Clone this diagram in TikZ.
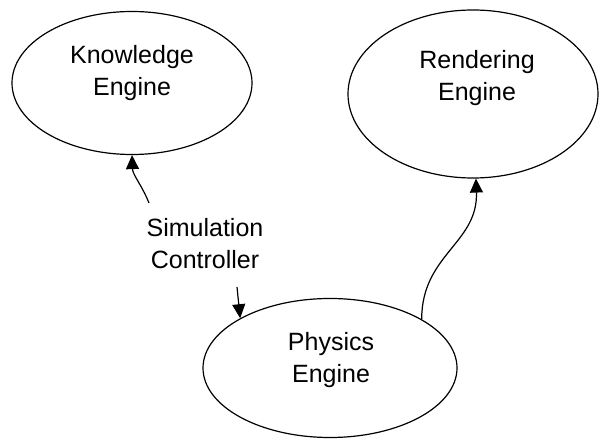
\documentclass[tikz,border=0pt]{standalone}
\usepackage{fontspec}
\setmainfont{Liberation Sans}
\usetikzlibrary{shapes.geometric,arrows.meta,positioning}

\begin{document}
\begin{tikzpicture}[
            x=1pt, y=1pt,
            engine/.style={ellipse, draw=black, line width=1.2pt, inner sep=0pt},
            lbl/.style={align=center, font=\fontsize{25}{32}\selectfont},
            link/.style={-{Triangle[length=14pt,width=13pt]}, line width=1.2pt, black}
        ]
            \useasboundingbox (0,0) rectangle (600,442);

            % Engines
            \node[engine, minimum width=240pt, minimum height=143pt] (know) at (132,359) {};
            \node[engine, minimum width=250pt, minimum height=168pt] (rend) at (473,348) {};
            \node[engine, minimum width=254pt, minimum height=139pt] (phys) at (330,74) {};

            % Labels
            \node[lbl] (knowtxt) at (132,369) {Knowledge\\Engine};
            \node[lbl] (rendtxt) at (477,364) {Rendering\\Engine};
            \node[lbl] (phystxt) at (331,82) {Physics\\Engine};
            \node[lbl] (sim) at (205,198) {Simulation\\Controller};

            % Free ends at the controller
            \coordinate (simtop) at (149,239);
            \coordinate (simbot) at (237,155);

            % Arrows
            \draw[link] (simtop) to[out=112, in=-88] (know.south);
            \draw[link] (simbot) -- (phys.151);
            \draw[link] (phys.28) to[out=90, in=-88, looseness=1.1] (rend.272);
        \end{tikzpicture}
\end{document}
